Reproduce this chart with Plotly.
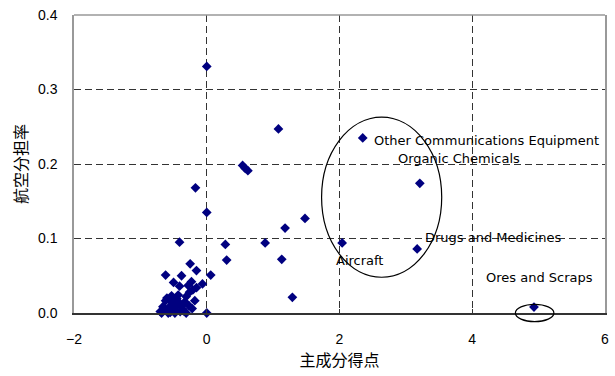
import plotly.graph_objects as go

# principal component score (x) and air share (y)
pc_score = [
    2.35, 3.21, 3.17, 2.04, 4.93,
    0.00, 1.08, 0.54, 0.58, 0.62, -0.17, 0.00, 1.48, 1.18, -0.41, 0.28, 0.88,
    0.30, 1.13, 0.06, 1.29, 0.00,
    -0.25, -0.155, -0.62, -0.38, -0.50, -0.41, -0.28, -0.155, -0.065, -0.23,
    -0.26, -0.21, -0.53, -0.43, -0.31, -0.62, -0.53, -0.43, -0.33, -0.18,
    -0.66, -0.56, -0.46, -0.38, -0.68, -0.58, -0.48, -0.31, -0.51, -0.60,
    -0.45, -0.36, -0.27, -0.64, -0.49, -0.40, -0.22, -0.70, -0.55, -0.35,
]
air_share = [
    0.235, 0.174, 0.086, 0.094, 0.008,
    0.331, 0.247, 0.198, 0.194, 0.191, 0.168, 0.135, 0.127, 0.114, 0.095, 0.092, 0.094,
    0.071, 0.072, 0.051, 0.021, 0.000,
    0.066, 0.057, 0.051, 0.050, 0.041, 0.036, 0.037, 0.034, 0.039, 0.042,
    0.028, 0.031, 0.023, 0.024, 0.022, 0.0165, 0.015, 0.015, 0.015, 0.0165,
    0.0085, 0.0085, 0.0085, 0.0094, 0.000, 0.000, 0.000, 0.000, 0.012, 0.020,
    0.019, 0.005, 0.010, 0.004, 0.003, 0.002, 0.006, 0.002, 0.001, 0.003,
]

label_text = ["Other Communications Equipment", "Organic Chemicals",
              "Drugs and Medicines", "Aircraft", "Ores and Scraps"]
label_x = [2.49, 2.85, 3.26, 1.92, 4.18]
label_y = [0.232, 0.207, 0.101, 0.070, 0.047]

x_ticks = [-2, 0, 2, 4, 6]
y_ticks = [0.0, 0.1, 0.2, 0.3, 0.4]

fig = go.Figure()
fig.add_trace(go.Scatter(
    x=pc_score, y=air_share, mode="markers",
    marker=dict(symbol="diamond", size=7.5, color="#000080"),
    cliponaxis=False, showlegend=False, hoverinfo="x+y",
))

for t, x, y in zip(label_text, label_x, label_y):
    fig.add_annotation(x=x, y=y, text=t, showarrow=False, xanchor="left",
                       yanchor="middle", font=dict(family="DejaVu Sans", size=13, color="#000"))

# ellipses
fig.add_shape(type="circle", xref="x", yref="y", x0=1.73, x1=3.54, y0=0.048, y1=0.263,
              line=dict(color="#000", width=1.2))
fig.add_shape(type="circle", xref="x", yref="paper", x0=4.65, x1=5.23, y0=-0.029, y1=0.029,
              line=dict(color="#000", width=1.2))
# top border
fig.add_shape(type="line", xref="paper", yref="paper", x0=0, x1=1, y0=1, y1=1,
              line=dict(color="#999", width=1.5))

fig.update_layout(
    width=615, height=376,
    margin=dict(l=74, r=10, t=15, b=63),
    plot_bgcolor="white", paper_bgcolor="white",
    font=dict(family="Liberation Sans", size=14, color="#000"),
)
fig.update_xaxes(
    range=[-2, 6], tickvals=x_ticks, showgrid=True, gridcolor="#333",
    griddash="7px,4px", gridwidth=1, zeroline=False, automargin=False,
    showline=True, linecolor="#333", linewidth=1.5,
    ticks="inside", ticklen=4, tickcolor="#333", ticklabelstandoff=12,
    title=dict(text="主成分得点", font=dict(family="Noto Sans CJK JP", size=16), standoff=8),
)
fig.update_yaxes(
    range=[0, 0.4], tickvals=y_ticks, tickformat=".1f", showgrid=True, gridcolor="#333",
    griddash="7px,4px", gridwidth=1, zeroline=False, automargin=False,
    showline=True, linecolor="#999", linewidth=1.5, mirror=True,
    ticks="", ticklabelstandoff=12,
    title=dict(text="航空分担率", font=dict(family="Noto Sans CJK JP", size=16), standoff=6),
)

fig.write_html("out.html", config={"displayModeBar": False},
               post_script="document.body.style.margin='0px';")
